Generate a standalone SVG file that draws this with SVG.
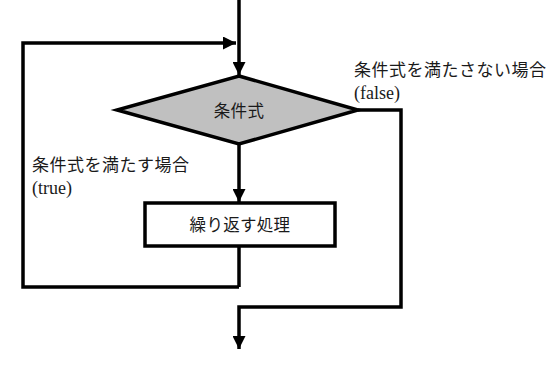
<svg xmlns="http://www.w3.org/2000/svg" width="553" height="365" viewBox="0 0 553 365">
<defs>
<style>
.ln{fill:none;stroke:#000;stroke-width:3.5;stroke-linejoin:miter}
.jp{font-family:"Noto Sans CJK JP","Noto Sans CJK SC",sans-serif;font-size:17px;letter-spacing:0.5px;fill:#1a1a1a}
.jn{font-family:"Noto Sans CJK JP","Noto Sans CJK SC",sans-serif;font-size:16.5px;letter-spacing:0.3px;fill:#1a1a1a}
.sf{font-family:"Liberation Serif","DejaVu Serif",serif;font-size:18px;fill:#1a1a1a}
</style>
<marker id="ah" markerWidth="13" markerHeight="13" viewBox="0 0 13 13" refX="13" refY="6.5" orient="auto" markerUnits="userSpaceOnUse">
<path d="M0,0 L13,6.5 L0,13 Z" fill="#000"/>
</marker>
</defs>
<rect width="553" height="365" fill="#fff"/>
<g id="connectors">
<path class="ln" d="M239,0 V75" marker-end="url(#ah)"/>
<path class="ln" d="M239,287 H23 V43 H236" marker-end="url(#ah)"/>
<path class="ln" d="M239,144 V202" marker-end="url(#ah)"/>
<path class="ln" d="M239,246 V287"/>
<path class="ln" d="M358,110 H401 V307 H239 V349" marker-end="url(#ah)"/>
</g>
<g id="cond">
<polygon points="239,76 358,110 239,144 117,110" fill="#c0c0c0" stroke="#000" stroke-width="3.5"/>
<text class="jn" x="239" y="117" text-anchor="middle">条件式</text>
</g>
<g id="process">
<rect x="145" y="203" width="190" height="43" fill="#fff" stroke="#000" stroke-width="3.5"/>
<text class="jn" x="240" y="231" text-anchor="middle">繰り返す処理</text>
</g>
<g id="label-false">
<text class="jp" x="354" y="76">条件式を満たさない場合</text>
<text class="sf" x="354" y="99">(false)</text>
</g>
<g id="label-true">
<text class="jp" x="32" y="171">条件式を満たす場合</text>
<text class="sf" x="32" y="194">(true)</text>
</g>
</svg>
